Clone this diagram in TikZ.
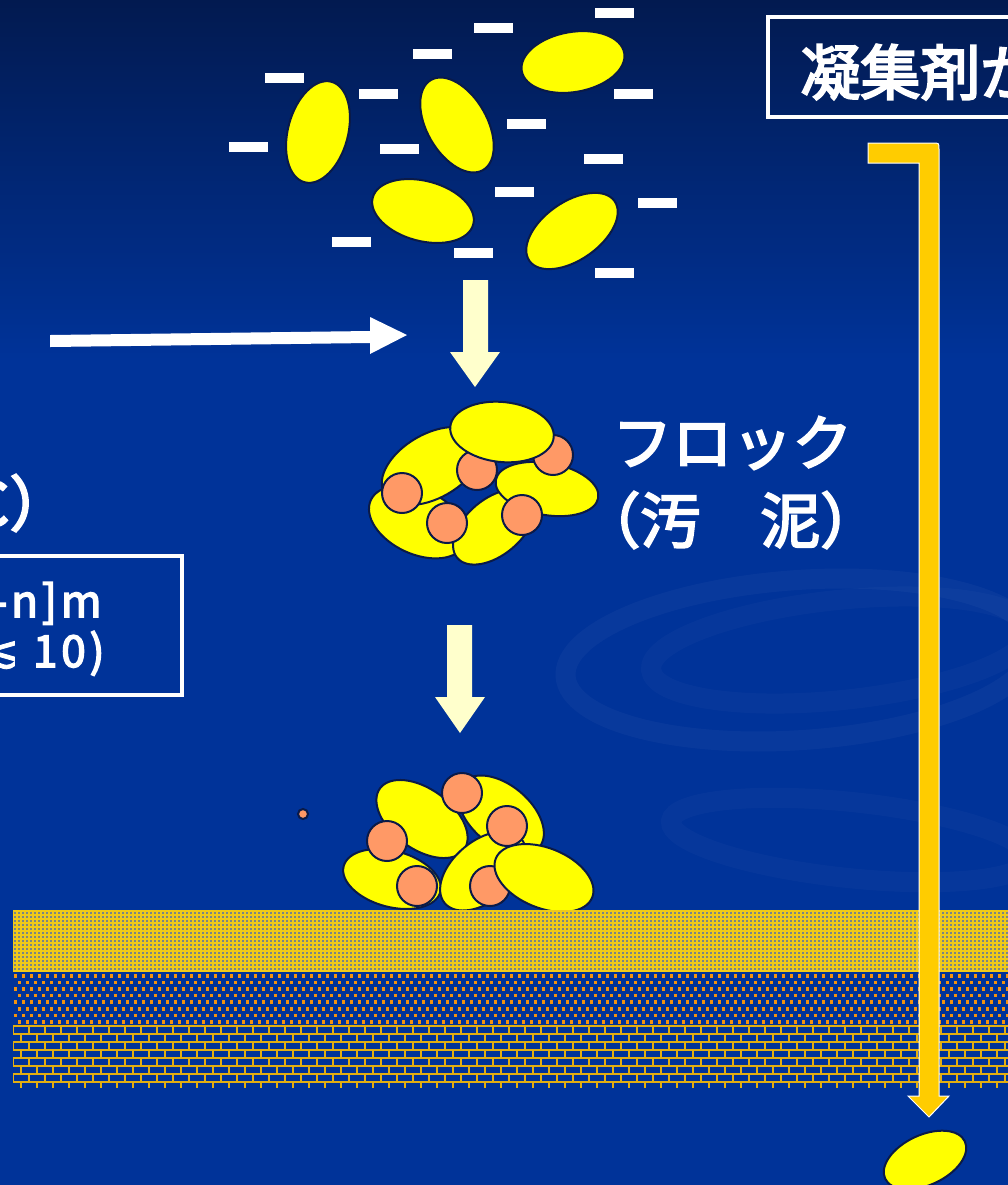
\documentclass[tikz,border=0pt]{standalone}
\usepackage{fontspec}
\newfontfamily\jpheavy{Noto Sans CJK JP}[FakeBold=3.5]
\newfontfamily\symfont{DejaVu Sans}[FakeBold=2]

\definecolor{bgtop}{HTML}{021A50}
\definecolor{bgmid}{HTML}{003399}
\definecolor{blob}{HTML}{FFFF00}
\definecolor{blobline}{HTML}{0A1A48}
\definecolor{salmon}{HTML}{FF9966}
\definecolor{cream}{HTML}{FFFFCC}
\definecolor{gold}{HTML}{FFCC00}
\definecolor{sandbase}{HTML}{7A8684}
\definecolor{sandgrid}{HTML}{F0CA18}
\definecolor{gravel}{HTML}{F3920F}
\definecolor{mortar}{HTML}{E2AE12}

\tikzset{
  particle/.style={fill=blob, draw=blobline, line width=1pt},
  core/.style={fill=salmon, draw=blobline, line width=1pt},
  minus/.style={fill=white},
  flowarrow/.style={fill=cream},
  bigtext/.style={text=white, inner sep=0pt, font=\jpheavy\fontsize{30}{36}\selectfont},
  boxtext/.style={text=white, inner sep=0pt,
    font=\jpheavy\fontsize{22}{26}\selectfont\addfontfeature{LetterSpace=9}},
  frame/.style={draw=white, line width=2pt},
  swirl/.style={draw=white, line width=10pt, opacity=0.03},
}

% yellow particle: centre, angle, half axes
\newcommand\particleat[4]{\path[particle, rotate around={#2:(#1)}] (#1) ellipse [x radius=#3, y radius=#4];}
\newcommand\coreat[1]{\path[core] (#1) circle [radius=20];}

\begin{document}
\begin{tikzpicture}[x=0.5pt, y=-0.5pt]
\useasboundingbox (0,0) rectangle (1008,1185);

% background
\shade[top color=bgtop, bottom color=bgmid] (0,0) rectangle (1008,360);
\fill[bgmid] (0,359) rectangle (1008,1185);

% faint swirls
\path[swirl, rotate around={4:(800,660)}] (800,660) ellipse [x radius=235, y radius=80];
\path[swirl, opacity=0.022, rotate around={6:(840,650)}] (840,650) ellipse [x radius=190, y radius=50];
\path[swirl, opacity=0.022, rotate around={-6:(850,840)}] (850,840) ellipse [x radius=180, y radius=38];

% dispersed charged particles
\particleat{318,132}{75}{52}{30}
\particleat{457,125}{-60}{52}{30}
\particleat{573,62}{10}{52}{30}
\particleat{423,211}{-15}{52}{30}
\particleat{572,231}{35}{52}{29}

% negative charges
\foreach \x/\y in {595/8, 474/23, 413/49, 265/73, 359/89, 614/89, 507/119, 229/142,
                   380/144, 584/154, 495/187, 638/198, 332/237, 454/248, 595/268}
  \fill[minus] (\x,\y) rectangle +(39,10);

% flow arrows
\fill[flowarrow] (463,280) -- (488,280) -- (488,352) -- (500,352) -- (475,387)
  -- (450,352) -- (463,352) -- cycle;
\fill[flowarrow] (447,625) -- (472,625) -- (472,697) -- (485,697) -- (460,733)
  -- (435,697) -- (447,697) -- cycle;
\fill[white] (50,335) -- (370,331) -- (370,317) -- (407,335) -- (370,354)
  -- (370,343) -- (50,347) -- cycle;

% floc
\particleat{418,522}{-25}{52}{32}
\particleat{432,466}{30}{55}{32}
\particleat{494,527}{40}{48}{28}
\particleat{547,489}{-10}{52}{26}
\coreat{402,493}
\coreat{447,523}
\coreat{522,515}
\coreat{477,470}
\coreat{553,455}
\particleat{502,432}{-6}{52}{30}

% settled floc
\particleat{392,879}{-15}{50}{28}
\particleat{501,815}{-40}{50}{30}
\particleat{422,819}{-36}{52}{30}
\coreat{462,793}
\coreat{387,841}
\particleat{483,871}{40}{50}{30}
\coreat{507,826}
\coreat{417,886}
\coreat{490,886}
\particleat{544,878}{-22}{52}{30}

\path[core] (303,814) circle [radius=5];

% sand layer
\begin{scope}
  \clip (13,910) rectangle (1008,972);
  \fill[sandbase] (13,910) rectangle (1008,972);
  \foreach \i in {0,...,249}
    \draw[sandgrid, line width=0.8pt] ({13+4*\i},910) -- ({13+4*\i},972);
  \foreach \j in {0,...,15}
    \draw[sandgrid, line width=0.8pt] (13,{911+4*\j}) -- (1008,{911+4*\j});
\end{scope}

% gravel layer
\begin{scope}
  \clip (13,972) rectangle (1008,1025);
  \foreach \j in {0,...,7}
    \foreach \i in {0,...,124}
      \fill[gravel] ({13.5+8*\i+4*mod(\j,2)},{974+6.6*\j}) rectangle +(3.5,3.5);
\end{scope}

% brick layer
\begin{scope}
  \clip (13,1024) rectangle (1008,1090);
  \foreach \j in {0,...,7}
    \draw[mortar, line width=1.3pt] (13,{1026+8*\j}) -- (1008,{1026+8*\j});
  \foreach \j in {0,...,7}
    \foreach \i in {0,...,62}
      \draw[mortar, line width=1.3pt] ({13+16*\i+8*mod(\j,2)},{1026+8*\j}) -- +(0,{\j==7 ? 6 : 8});
\end{scope}

% coagulant feed line
\draw[white, line width=0.5pt, fill=gold] (868,143) -- (933,143) .. controls (939,143) .. (939,149)
  -- (939,1096) -- (949,1096) -- (929,1117) -- (908,1096) -- (919,1096) -- (919,163)
  -- (868,163) -- cycle;
\particleat{925,1160}{25}{44}{25}

% labels
\draw[frame] (768,17) rectangle (1040,117);
\node[bigtext, anchor=west] (coagulant) at (800,72) {凝集剤が};
\node[bigtext, anchor=west] (floc) at (612,443) {フロック};
\node[bigtext, anchor=west] (sludge) at (580,520) {（汚　泥）};
\node[bigtext, anchor=east] (temp) at (70,503) {℃）};

\draw[frame] (-20,556) rectangle (182,695);
\node[boxtext, anchor=base east] (formula) at (102,617) {[Al2(OH)nCl6-n]m};
\node[boxtext, anchor=base east] (range) at (105,667) {(1 ≤ n ≤ 5, m {\symfont ≲} 10)};
\end{tikzpicture}
\end{document}
